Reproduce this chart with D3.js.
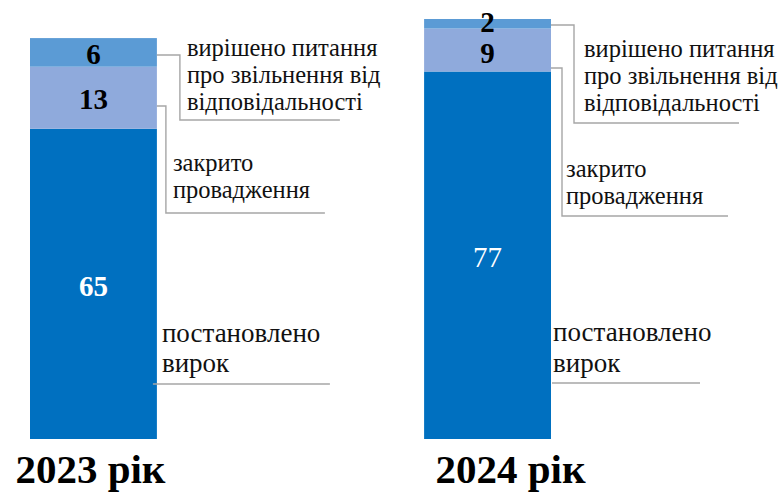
<!DOCTYPE html>
<html>
<head>
<meta charset="utf-8">
<script src="https://cdn.jsdelivr.net/npm/d3@7"></script>
<style>
  body { margin: 0; background: #fff; }
</style>
</head>
<body>
<div id="chart"></div>
<script>
// data
const years = ["2023", "2024"];
const yearLabels = ["2023 рік", "2024 рік"];
const seriesNames = ["постановлено вирок", "закрито провадження", "вирішено питання про звільнення від відповідальності"];
const verdict = [65, 77];
const closed = [13, 9];
const released = [6, 2];
const colors = ["#0070C0", "#8FAADC", "#5B9BD5"];

const width = 778, height = 493;
const serif = "'Liberation Serif', 'Times New Roman', serif";

const svg = d3.select("#chart").append("svg")
    .attr("width", width)
    .attr("height", height)
    .style("font-family", serif);

const x = d3.scaleBand()
    .domain(years)
    .range([30, 551])
    .paddingInner(0.678)
    .paddingOuter(0);

const y = d3.scaleLinear()
    .domain([0, 88])
    .range([439, 19]);

let table = years.map((yr, i) => ({year: yr, s0: verdict[i], s1: closed[i], s2: released[i]}));
let stacked = d3.stack().keys(["s0", "s1", "s2"])(table);

// bars
svg.selectAll(".layer")
    .data(stacked)
    .enter().append("g")
    .attr("class", "layer")
    .attr("fill", (d, i) => colors[i])
    .selectAll("rect")
    .data(d => d)
    .enter().append("rect")
    .attr("x", d => x(d.data.year))
    .attr("y", d => y(d[1]))
    .attr("width", x.bandwidth())
    .attr("height", d => y(d[0]) - y(d[1]));

// value labels (small segments get a tweak so they sit like the original)
let valueStyle = [
    [{dy: 12.5, c: "#fff", w: "bold"}, {dy: 12, c: "#fff", w: "normal"}],
    [{dy: 11, c: "#000", w: "bold"}, {dy: 13, c: "#000", w: "bold"}],
    [{dy: 12, c: "#000", w: "bold"}, {dy: 8, c: "#000", w: "bold"}]
];
stacked.forEach((layer, li) => {
    layer.forEach((d, bi) => {
        let st = valueStyle[li][bi];
        svg.append("text")
            .attr("x", x(d.data.year) + x.bandwidth() / 2)
            .attr("y", (y(d[0]) + y(d[1])) / 2 + st.dy)
            .attr("text-anchor", "middle")
            .attr("font-size", 29)
            .attr("font-weight", st.w)
            .attr("fill", st.c)
            .text(d[1] - d[0]);
    });
});

// leader lines + category labels, per bar
// pts / tx are offsets from the bar's right edge
let layout = [
    [
        {pts: [[-4, 384], [173, 384]], tx: 5, ty: 341.5, fs: 27, lh: 30, lines: ["постановлено", "вирок"]},
        {pts: [[0, 106], [9, 106], [9, 213], [168, 213]], tx: 16, ty: 170.5, fs: 24.5, lh: 27.5, lines: ["закрито", "провадження"]},
        {pts: [[0, 55], [23, 55], [23, 120], [183, 120]], tx: 30, ty: 56, fs: 24.5, lh: 27, lines: ["вирішено питання", "про звільнення від", "відповідальності"]}
    ],
    [
        {pts: [[1, 383], [149, 383]], tx: 2, ty: 341, fs: 27, lh: 30.5, lines: ["постановлено", "вирок"]},
        {pts: [[0, 68], [11, 68], [11, 216], [177, 216]], tx: 15, ty: 176.5, fs: 24.5, lh: 27.5, lines: ["закрито", "провадження"]},
        {pts: [[0, 25], [23, 25], [23, 123], [188, 123]], tx: 33, ty: 57, fs: 24.5, lh: 27, lines: ["вирішено питання", "про звільнення від", "відповідальності"]}
    ]
];

let line = d3.line();
years.forEach((yr, bi) => {
    let right = x(yr) + x.bandwidth();
    layout[bi].forEach(lab => {
        svg.append("path")
            .attr("d", line(lab.pts.map(p => [right + p[0], p[1]])))
            .attr("fill", "none")
            .attr("stroke", "#A6A6A6")
            .attr("stroke-width", 1.4);
        let t = svg.append("text")
            .attr("x", right + lab.tx)
            .attr("y", lab.ty)
            .attr("font-size", lab.fs)
            .attr("fill", "#111");
        lab.lines.forEach((ln, k) => {
            t.append("tspan")
                .attr("x", right + lab.tx)
                .attr("dy", k === 0 ? 0 : lab.lh)
                .text(ln);
        });
    });
});

// year labels under bars
let yearShift = [-3, 23];
years.forEach((yr, i) => {
    svg.append("text")
        .attr("x", x(yr) + x.bandwidth() / 2 + yearShift[i])
        .attr("y", 483)
        .attr("text-anchor", "middle")
        .attr("font-size", 41)
        .attr("font-weight", "bold")
        .attr("fill", "#000")
        .text(yearLabels[i]);
});
</script>
</body>
</html>
